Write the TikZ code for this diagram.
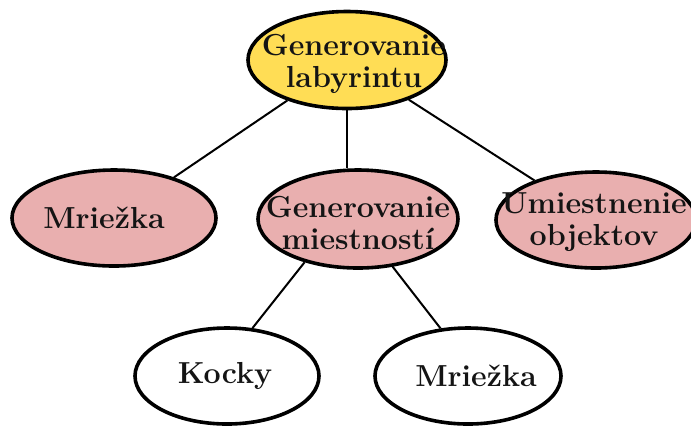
\documentclass[tikz,border=0pt]{standalone}
\usetikzlibrary{shapes.geometric}
\definecolor{topyellow}{RGB}{255,221,85}
\definecolor{midpink}{RGB}{233,175,175}
\begin{document}
\begin{tikzpicture}[x=0.5pt,y=-0.5pt,
  blob/.style={ellipse, draw=black, line width=1.8pt, inner sep=0pt},
  txt/.style={font=\fontsize{15.2}{16}\selectfont\bfseries, align=center, inner sep=0pt, text=black!92},
  link/.style={line width=1pt}]
\useasboundingbox (0,0) rectangle (691,425);
\node[blob, fill=topyellow, minimum width=99pt, minimum height=48.5pt,
  label={[txt, xshift=3.5pt, yshift=-2pt]center:Generovanie\\labyrintu}] (root) at (347,60) {};
\node[blob, fill=midpink, minimum width=102pt, minimum height=48pt,
  label={[txt, xshift=-5pt]center:Mriežka}] (grid) at (114,218) {};
\node[blob, fill=midpink, minimum width=100pt, minimum height=49pt,
  label={[txt, yshift=-2pt]center:Generovanie\\miestností}] (rooms) at (358,219) {};
\node[blob, fill=midpink, minimum width=100pt, minimum height=48pt,
  label={[txt, xshift=-1pt, yshift=-1pt]center:Umiestnenie\\objektov}] (objs) at (596,220) {};
\node[blob, fill=white, minimum width=92pt, minimum height=48pt,
  label={[txt, xshift=-1pt]center:Kocky}] (cubes) at (227,376) {};
\node[blob, fill=white, minimum width=93pt, minimum height=48pt,
  label={[txt, xshift=4pt]center:Mriežka}] (grid2) at (468,376) {};
\draw[link] (root) -- (grid);
\draw[link] (root.south) -- (root.south |- rooms.north);
\draw[link] (root) -- (objs);
\draw[link] (rooms.219) -- (cubes.62);
\draw[link] (rooms.306) -- (grid2.120);
\end{tikzpicture}
\end{document}
